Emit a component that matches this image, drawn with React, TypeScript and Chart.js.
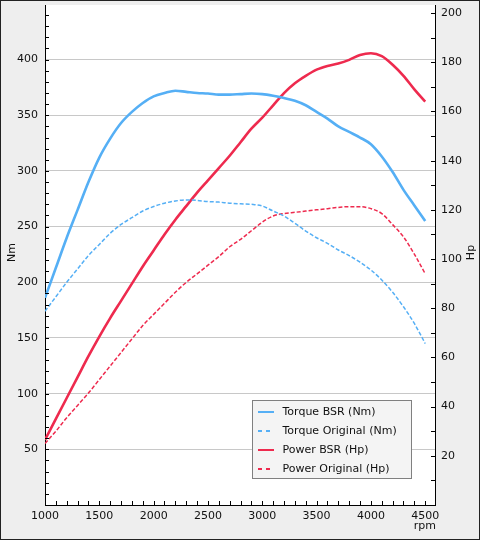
import React, { useEffect, useRef } from "react";
import { Chart, registerables } from "chart.js";

Chart.register(...registerables);

// ---- data ----
const rpm = [
  1000, 1100, 1200, 1300, 1400, 1500, 1600, 1700, 1800, 1900,
  2000, 2100, 2200, 2300, 2400, 2500, 2600, 2700, 2800, 2900,
  3000, 3100, 3200, 3300, 3400, 3500, 3600, 3700, 3800, 3900,
  4000, 4100, 4200, 4300, 4400, 4500,
];

const torqueBSR = [
  186, 213, 240, 265, 290, 312, 329, 343, 353, 361,
  367, 370, 372, 371, 370, 369.5, 368.5, 368.5, 369, 369.5,
  369, 367.5, 365.5, 363, 359, 353, 347, 340, 335, 330,
  324, 313, 299, 283, 269, 255,
];

const torqueOriginal = [
  174, 187, 200, 212, 224, 234, 244, 252, 258, 264,
  268, 271, 273, 274, 273.5, 272.5, 272, 271, 270.5, 270,
  268.5, 264, 259.5, 253, 246, 240, 235, 229, 224, 218,
  211, 202, 191, 178, 163, 145,
];

const powerBSR = [
  26.5, 35, 43.5, 52, 60.5, 68.5, 76, 83, 90, 97,
  103.5, 110, 116, 121.5, 127, 132, 137, 142, 147.5, 153,
  157.5, 162.5, 167.5, 171.5, 174.5, 177, 178.5, 179.5, 181, 183,
  183.7, 182.5, 179, 174.5, 169, 164,
];

const powerOriginal = [
  25, 30, 35.5, 40.5, 45.5, 51, 56.5, 62, 67.5, 73,
  77.5, 82, 86.5, 90.5, 94, 97.5, 101, 105, 108, 111.5,
  115, 117.5, 118.5, 119, 119.5, 120, 120.5, 121, 121.3, 121.3,
  120.5, 118.5, 114, 109, 102, 94,
];

const seriesLabels = [
  "Torque BSR (Nm)",
  "Torque Original (Nm)",
  "Power BSR (Hp)",
  "Power Original (Hp)",
];

const rpmTicks = [1000, 1500, 2000, 2500, 3000, 3500, 4000, 4500];
const nmTicks = [50, 100, 150, 200, 250, 300, 350, 400];
const hpTicks = [20, 40, 60, 80, 100, 120, 140, 160, 180, 200];

const xTitle = "rpm";
const yTitle = "Nm";
const y1Title = "Hp";

// ---- styles ----
const BLUE = "#55aff5";
const RED = "#ee2a4e";
const FONT = '"DejaVu Sans", "Liberation Sans", sans-serif';
const TEXT = "#111111";

const pts = (ys: number[]) => rpm.map((x, i) => ({ x, y: ys[i] }));

const decorPlugin = {
  id: "decor",
  beforeDraw(chart: any) {
    const { ctx, chartArea } = chart;
    ctx.save();
    ctx.fillStyle = "#ffffff";
    ctx.fillRect(
      chartArea.left,
      chartArea.top,
      chartArea.right - chartArea.left,
      chartArea.bottom - chartArea.top
    );
    ctx.restore();
  },
  afterDraw(chart: any) {
    const { ctx, chartArea: ca } = chart;
    const xs = chart.scales.x;
    const ys = chart.scales.y;
    const y1s = chart.scales.y1;
    const TL = 4;

    ctx.save();
    ctx.strokeStyle = "#000000";
    ctx.lineWidth = 1;
    ctx.beginPath();
    // minor ticks on left axis (every 10 Nm)
    for (let v = 10; v < ys.max; v += 10) {
      const py = Math.round(ys.getPixelForValue(v)) + 0.5;
      ctx.moveTo(ca.left, py);
      ctx.lineTo(ca.left + TL, py);
    }
    // ticks on right axis (every 10 Hp)
    for (let v = 10; v < y1s.max; v += 10) {
      const py = Math.round(y1s.getPixelForValue(v)) + 0.5;
      ctx.moveTo(ca.right - TL, py);
      ctx.lineTo(ca.right, py);
    }
    // ticks on x axis (every 100 rpm)
    for (let v = xs.min + 100; v < xs.max; v += 100) {
      const px = Math.round(xs.getPixelForValue(v)) + 0.5;
      ctx.moveTo(px, ca.bottom - TL);
      ctx.lineTo(px, ca.bottom);
    }
    ctx.stroke();

    // axis titles
    ctx.fillStyle = TEXT;
    ctx.font = `11px ${FONT}`;
    ctx.textBaseline = "alphabetic";
    const midY = (ca.top + ca.bottom) / 2 - 2.5;

    ctx.save();
    ctx.translate(14, midY);
    ctx.rotate(-Math.PI / 2);
    ctx.textAlign = "center";
    ctx.fillText(yTitle, 0, 0);
    ctx.restore();

    ctx.save();
    ctx.translate(chart.width - 5, midY);
    ctx.rotate(-Math.PI / 2);
    ctx.textAlign = "center";
    ctx.fillText(y1Title, 0, 0);
    ctx.restore();

    ctx.textAlign = "right";
    ctx.fillText(xTitle, ca.right + 1, chart.height - 10);

    // legend box
    const bw = 159;
    const bh = 78;
    const bx = Math.round(ca.right - 24 - bw) + 0.5;
    const by = Math.round(ca.bottom - 27 - bh) + 0.5;
    ctx.fillStyle = "#f4f4f4";
    ctx.fillRect(bx, by, bw, bh);
    ctx.strokeStyle = "#808080";
    ctx.lineWidth = 1;
    ctx.strokeRect(bx, by, bw, bh);

    ctx.textAlign = "left";
    ctx.textBaseline = "middle";
    chart.data.datasets.forEach((ds: any, i: number) => {
      const cy = by + 11.5 + i * 19;
      ctx.save();
      ctx.strokeStyle = ds.borderColor;
      ctx.lineWidth = 2;
      ctx.setLineDash(ds.borderDash && ds.borderDash.length ? [4, 4] : []);
      ctx.beginPath();
      ctx.moveTo(bx + 5.5, cy);
      ctx.lineTo(bx + 21.5, cy);
      ctx.stroke();
      ctx.restore();
      ctx.fillStyle = TEXT;
      ctx.fillText(ds.label, bx + 30, cy + 0.5);
    });
    ctx.restore();
  },
};

export default function App() {
  const canvasRef = useRef<HTMLCanvasElement | null>(null);

  useEffect(() => {
    if (!canvasRef.current) return;
    const tickFont = { family: FONT, size: 11 };
    const chart = new Chart(canvasRef.current, {
      type: "line",
      data: {
        datasets: [
          {
            label: seriesLabels[0],
            data: pts(torqueBSR),
            yAxisID: "y",
            borderColor: BLUE,
            borderWidth: 2.6,
            pointRadius: 0,
            cubicInterpolationMode: "monotone",
          },
          {
            label: seriesLabels[1],
            data: pts(torqueOriginal),
            yAxisID: "y",
            borderColor: BLUE,
            borderWidth: 1.5,
            borderDash: [4, 2],
            pointRadius: 0,
            cubicInterpolationMode: "monotone",
          },
          {
            label: seriesLabels[2],
            data: pts(powerBSR),
            yAxisID: "y1",
            borderColor: RED,
            borderWidth: 2.6,
            pointRadius: 0,
            cubicInterpolationMode: "monotone",
          },
          {
            label: seriesLabels[3],
            data: pts(powerOriginal),
            yAxisID: "y1",
            borderColor: RED,
            borderWidth: 1.5,
            borderDash: [4, 2],
            pointRadius: 0,
            cubicInterpolationMode: "monotone",
          },
        ],
      },
      options: {
        responsive: false,
        animation: false,
        layout: { padding: { top: 4, left: 0, right: 0, bottom: 0 } },
        plugins: {
          legend: { display: false },
          tooltip: { enabled: false },
        },
        scales: {
          x: {
            type: "linear",
            min: 1000,
            max: 4590,
            afterBuildTicks: (s: any) => {
              s.ticks = rpmTicks.map((v) => ({ value: v }));
            },
            afterFit: (s: any) => {
              s.height = 34;
              s.paddingLeft = 0;
              s.paddingRight = 0;
            },
            grid: { drawOnChartArea: false, drawTicks: false },
            border: { display: true, color: "#000000", width: 1 },
            ticks: {
              autoSkip: false,
              maxRotation: 0,
              padding: 5,
              color: TEXT,
              font: tickFont,
              callback: (v: any) => String(v),
            },
          },
          y: {
            type: "linear",
            position: "left",
            min: 0,
            max: 449,
            afterBuildTicks: (s: any) => {
              s.ticks = nmTicks.map((v) => ({ value: v }));
            },
            afterFit: (s: any) => {
              s.width = 44;
              s.paddingTop = 0;
              s.paddingBottom = 0;
            },
            grid: { color: "#c8c8c8", lineWidth: 1, drawTicks: false },
            border: { display: true, color: "#000000", width: 1 },
            ticks: {
              autoSkip: false,
              padding: 7,
              color: TEXT,
              font: tickFont,
              callback: (v: any) => String(v),
            },
          },
          y1: {
            type: "linear",
            position: "right",
            min: 0,
            max: 203.3,
            afterBuildTicks: (s: any) => {
              s.ticks = hpTicks.map((v) => ({ value: v }));
            },
            afterFit: (s: any) => {
              s.width = 44;
              s.paddingTop = 0;
              s.paddingBottom = 0;
            },
            grid: { drawOnChartArea: false, drawTicks: false },
            border: { display: true, color: "#000000", width: 1 },
            ticks: {
              autoSkip: false,
              padding: 6,
              color: TEXT,
              font: tickFont,
              callback: (v: any) => String(v),
            },
          },
        },
      },
      plugins: [decorPlugin],
    } as any);
    return () => chart.destroy();
  }, []);

  return (
    <div
      style={{
        position: "absolute",
        left: 0,
        top: 0,
        width: 480,
        height: 540,
        boxSizing: "border-box",
        border: "1px solid #222222",
        background: "#eeeeee",
      }}
    >
      <canvas
        ref={canvasRef}
        width={478}
        height={538}
        style={{ display: "block", width: 478, height: 538 }}
      />
    </div>
  );
}
